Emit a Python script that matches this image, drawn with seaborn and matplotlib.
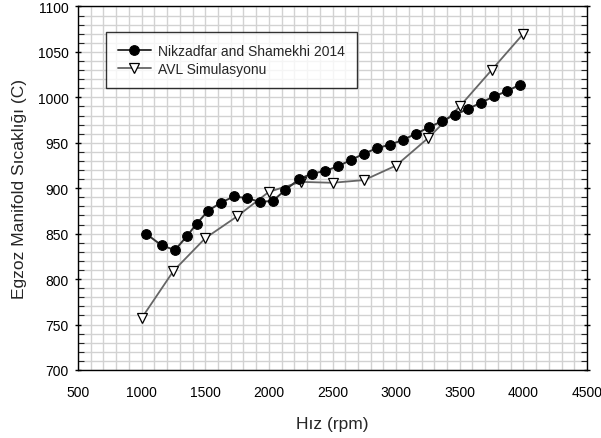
import matplotlib
matplotlib.use("Agg")
import matplotlib.pyplot as plt
import seaborn as sns
import pandas as pd
from matplotlib.ticker import MultipleLocator

nik_rpm = [1034, 1158, 1262, 1354, 1433, 1521, 1621, 1726, 1830, 1930, 2030, 2129, 2237, 2337, 2441,
           2541, 2643, 2748, 2847, 2952, 3051, 3156, 3258, 3363, 3463, 3562, 3664, 3769, 3874, 3973]
nik_temp = [850, 837, 832, 847, 861, 875, 884, 891, 889, 885, 886, 898, 910, 916, 919,
            924, 931, 938, 944, 948, 953, 960, 967, 974, 981, 987, 994, 1001, 1007, 1014]
avl_rpm = [1000, 1250, 1500, 1750, 2000, 2250, 2500, 2750, 3000, 3250, 3500, 3750, 4000]
avl_temp = [757, 809, 845, 869, 896, 907, 906, 909, 925, 955, 990, 1030, 1070]

nik_label = "Nikzadfar and Shamekhi 2014"
avl_label = "AVL Simulasyonu"

sns.set_style("white")
plt.rcParams['font.family'] = ['Liberation Sans', 'DejaVu Sans']

fig = plt.figure(figsize=(6.01, 4.39), dpi=100)
ax = fig.add_axes([0.1298, 0.1549, 0.8469, 0.8281])

df_n = pd.DataFrame({"rpm": nik_rpm, "T": nik_temp})
df_a = pd.DataFrame({"rpm": avl_rpm, "T": avl_temp})

sns.lineplot(data=df_n, x="rpm", y="T", ax=ax, sort=False, color="#333333", lw=1.4,
             marker="o", markersize=7, markerfacecolor="black", markeredgecolor="black",
             label=nik_label, zorder=4)
sns.lineplot(data=df_a, x="rpm", y="T", ax=ax, sort=False, color="#666666", lw=1.3,
             marker="v", markersize=7, markerfacecolor="white", markeredgecolor="black",
             markeredgewidth=0.9, label=avl_label, zorder=3)

ax.set_xlim(500, 4500)
ax.set_ylim(700, 1100)
ax.xaxis.set_major_locator(MultipleLocator(500))
ax.xaxis.set_minor_locator(MultipleLocator(100))
ax.yaxis.set_major_locator(MultipleLocator(50))
ax.yaxis.set_minor_locator(MultipleLocator(10))
ax.grid(True, which="both", color="#d2d2d2", lw=1.0, zorder=0)
ax.set_axisbelow(True)

for s in ax.spines.values():
    s.set_color("black")
    s.set_linewidth(1.0)

ax.tick_params(axis="x", which="major", direction="out", length=4, width=1,
               pad=7, labelsize=10, colors="black")
ax.tick_params(axis="y", which="major", direction="inout", length=5, width=1,
               pad=4, labelsize=10, colors="black", left=True, right=True)
ax.tick_params(axis="y", which="minor", direction="in", length=4, width=0.8,
               left=True, right=True)
ax.tick_params(axis="x", which="minor", bottom=False)

ax.set_xlabel("Hız (rpm)", fontsize=12.5, labelpad=12)
ax.set_ylabel("Egzoz Manifold Sıcaklığı (C)", fontsize=12.5, labelpad=8)

leg = ax.legend(loc="upper left", bbox_to_anchor=(0.055, 0.93), borderaxespad=0,
                frameon=True, fancybox=False, edgecolor="black", fontsize=10,
                handlelength=2.4, handletextpad=0.5, borderpad=0.85, labelspacing=0.3)
leg.get_frame().set_linewidth(1.0)

fig.savefig("out.png", dpi=100)
